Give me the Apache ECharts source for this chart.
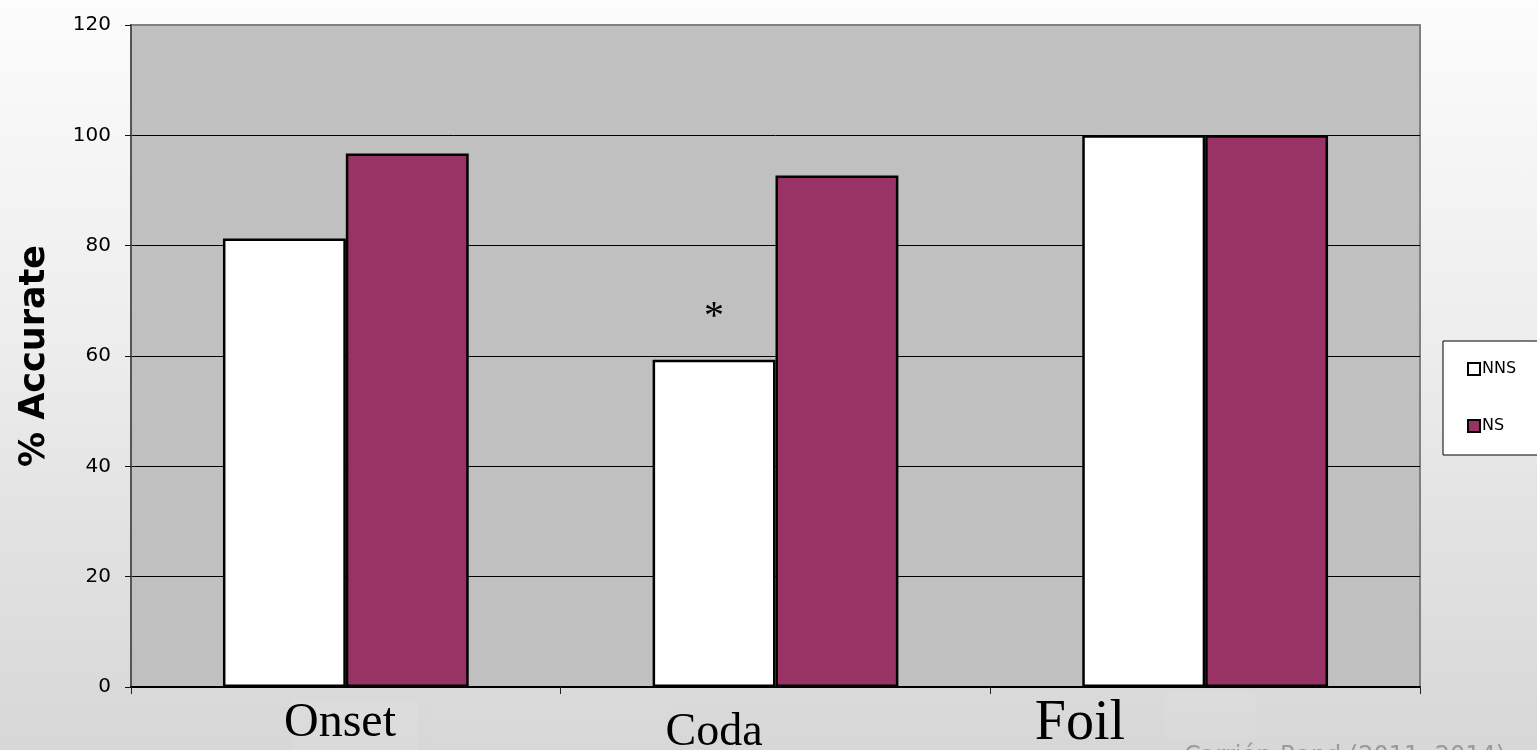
<!DOCTYPE html>
<html>
<head>
<meta charset="utf-8">
<title>% Accurate by position</title>
<script src="https://cdn.jsdelivr.net/npm/echarts@6/dist/echarts.min.js"></script>
<style>
  html, body { margin: 0; padding: 0; }
  #chart {
    width: 1537px; height: 750px;
    background: linear-gradient(to bottom, #fcfcfc 0%, #ececec 48%, #e3e3e3 68%, #d7d7d7 100%);
  }
</style>
</head>
<body>
<div id="chart"></div>
<script>
// Categories and values (% accurate)
const categories = ['Onset', 'Coda', 'Foil'];
const nnsValues = [81.3, 59.3, 100];
const nsValues = [96.7, 92.7, 100];
const significance = ['', '*', ''];
const seriesNames = ['NNS', 'NS'];
const yMin = 0, yMax = 120, yStep = 20;
const sourceNote = 'Carrión-Rand (2011, 2014)';

// Free-standing category captions (separate text boxes under the axis)
const captionLayout = [
  { x: 340, y: 723, size: 48 },
  { x: 714, y: 733, size: 46 },
  { x: 1080, y: 724, size: 56 }
];

const chart = echarts.init(document.getElementById('chart'));

const nnsData = nnsValues.map((v, i) => ({
  value: v,
  label: {
    show: significance[i] !== '',
    formatter: significance[i],
    position: 'top',
    distance: 22,
    fontFamily: 'Liberation Serif',
    fontSize: 40,
    color: '#000'
  }
}));

const graphics = [
  // faint caption boxes
  { type: 'rect', shape: { x: 292, y: 700, width: 126, height: 50 }, style: { fill: 'rgba(255,255,255,0.08)' }, z: 0 },
  { type: 'rect', shape: { x: 433, y: 708, width: 234, height: 42 }, style: { fill: 'rgba(255,255,255,0.04)' }, z: 0 },
  { type: 'rect', shape: { x: 1165, y: 692, width: 90, height: 47 }, style: { fill: 'rgba(255,255,255,0.07)' }, z: 0 }
];
categories.forEach((c, i) => {
  const p = captionLayout[i];
  graphics.push({
    type: 'text', z: 10,
    style: {
      x: p.x, y: p.y, text: c,
      font: p.size + 'px "Liberation Serif"',
      fill: '#000', textAlign: 'center', textVerticalAlign: 'middle'
    }
  });
});
graphics.push({
  type: 'text', z: 10,
  style: {
    x: 1184, y: 757, text: sourceNote,
    font: '24px "DejaVu Sans"',
    fill: '#9a9a9a', textAlign: 'left', textVerticalAlign: 'middle'
  }
});

chart.setOption({
  backgroundColor: 'transparent',
  animation: false,
  grid: {
    left: 131, right: 117, top: 25, bottom: 63,
    show: true,
    backgroundColor: '#c0c0c0',
    borderColor: '#808080',
    borderWidth: 2
  },
  legend: {
    orient: 'vertical',
    left: 1443, top: 341,
    data: seriesNames,
    backgroundColor: '#ffffff',
    borderColor: '#000000',
    borderWidth: 1,
    padding: [20, 80, 21, 24],
    itemGap: 41,
    itemWidth: 12, itemHeight: 12,
    icon: 'rect',
    itemStyle: { borderColor: '#000', borderWidth: 2 },
    textStyle: { fontFamily: 'DejaVu Sans', fontSize: 16, color: '#000', padding: [0, 0, 0, -3] }
  },
  xAxis: {
    type: 'category',
    data: categories,
    boundaryGap: true,
    axisLine: { show: true, lineStyle: { color: '#000', width: 2 } },
    axisTick: { show: true, length: 7, lineStyle: { color: '#222', width: 1 } },
    axisLabel: { show: false },
    splitLine: { show: false }
  },
  yAxis: {
    type: 'value',
    min: yMin, max: yMax, interval: yStep,
    name: '% Accurate',
    nameLocation: 'middle',
    nameGap: 79,
    nameRotate: 90,
    nameTextStyle: { fontFamily: 'DejaVu Sans', fontWeight: 'bold', fontSize: 35, color: '#000' },
    axisLine: { show: true, lineStyle: { color: '#555', width: 2 } },
    axisTick: { show: true, length: 6, lineStyle: { color: '#111', width: 1 } },
    axisLabel: { fontFamily: 'DejaVu Sans', fontSize: 20, color: '#000', margin: 20 },
    splitLine: {
      show: true,
      lineStyle: { color: ['#000', '#000', '#000', '#000', '#000', '#000', '#808080'], width: 1 }
    }
  },
  series: [
    {
      name: seriesNames[0],
      type: 'bar',
      data: nnsData,
      barGap: '0%',
      barCategoryGap: '42.8%',
      itemStyle: { color: '#ffffff', borderColor: '#000', borderWidth: 2.5 }
    },
    {
      name: seriesNames[1],
      type: 'bar',
      data: nsValues,
      barGap: '0%',
      barCategoryGap: '42.8%',
      itemStyle: { color: '#993366', borderColor: '#000', borderWidth: 2.5 }
    }
  ],
  graphic: graphics
});
</script>
</body>
</html>
